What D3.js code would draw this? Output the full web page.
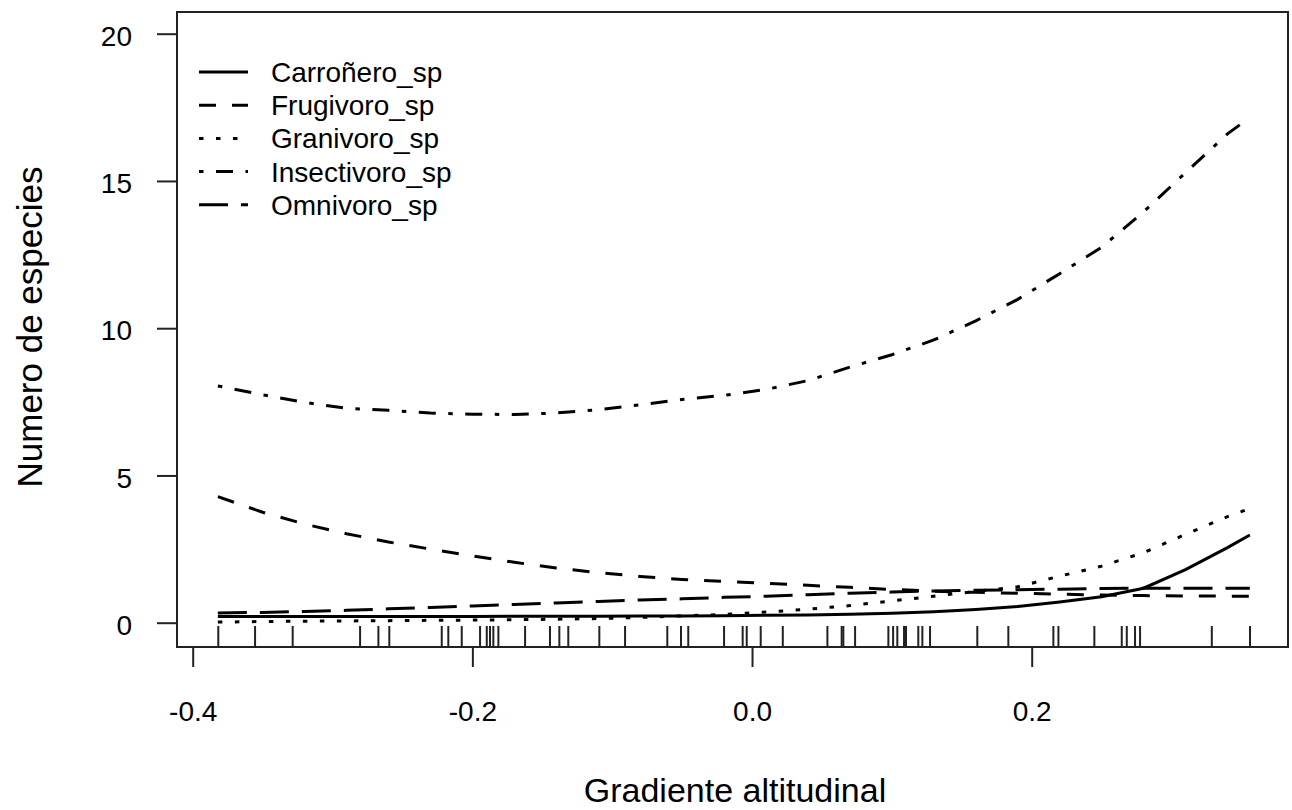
<!DOCTYPE html>
<html>
<head>
<meta charset="utf-8">
<script src="https://cdn.jsdelivr.net/npm/d3@7"></script>
<style>
  body { margin: 0; background: #fff; }
  text { font-family: "Liberation Sans", Arial, sans-serif; fill: #000; }
</style>
</head>
<body>
<div id="chart"></div>
<script>
const width = 1292;
const height = 810;

// x positions where the fitted curves were read
const gradiente = [-0.382, -0.35, -0.32, -0.29, -0.26, -0.23, -0.20, -0.17, -0.14, -0.11,
    -0.08, -0.05, -0.02, 0.01, 0.04, 0.07, 0.10, 0.13, 0.16, 0.19, 0.22, 0.25, 0.28, 0.31, 0.34, 0.356];

const carronero = [0.21, 0.21, 0.21, 0.21, 0.21, 0.21, 0.21, 0.22, 0.22, 0.22,
    0.23, 0.23, 0.24, 0.25, 0.26, 0.29, 0.32, 0.37, 0.45, 0.55, 0.70, 0.88, 1.17, 1.80, 2.55, 2.98];
const frugivoro = [4.28, 3.75, 3.35, 3.02, 2.74, 2.50, 2.27, 2.05, 1.86, 1.70,
    1.57, 1.47, 1.40, 1.34, 1.27, 1.20, 1.13, 1.07, 1.03, 1.00, 0.97, 0.94, 0.92, 0.91, 0.90, 0.90];
const granivoro = [0.02, 0.04, 0.05, 0.06, 0.07, 0.08, 0.09, 0.10, 0.12, 0.14,
    0.18, 0.23, 0.28, 0.36, 0.46, 0.58, 0.74, 0.90, 1.06, 1.22, 1.58, 1.92, 2.38, 3.00, 3.60, 3.88];
const insectivoro = [8.04, 7.74, 7.48, 7.28, 7.21, 7.12, 7.08, 7.07, 7.12, 7.23,
    7.40, 7.58, 7.72, 7.92, 8.22, 8.68, 9.10, 9.60, 10.25, 10.98, 11.85, 12.75, 13.95, 15.28, 16.60, 17.15];
const omnivoro = [0.33, 0.35, 0.38, 0.42, 0.47, 0.52, 0.57, 0.62, 0.67, 0.72,
    0.77, 0.81, 0.86, 0.90, 0.95, 1.00, 1.04, 1.08, 1.10, 1.12, 1.14, 1.16, 1.17, 1.17, 1.17, 1.17];

// observed sites (rug)
const sitios = [-0.3817, -0.3554, -0.3285, -0.2803, -0.2672, -0.2594, -0.2219, -0.2172, -0.2076,
    -0.1945, -0.1897, -0.1874, -0.1850, -0.1814, -0.1623, -0.1445, -0.1378, -0.1314, -0.1092,
    -0.0908, -0.0606, -0.0508, -0.0456, -0.0200, -0.0067, -0.0038, 0.0062, 0.0220, 0.0539,
    0.0641, 0.0653, 0.0737, 0.0975, 0.1009, 0.1039, 0.1087, 0.1101, 0.1189, 0.1218, 0.1273,
    0.1611, 0.1833, 0.2155, 0.2191, 0.2448, 0.2644, 0.2680, 0.2739, 0.2775, 0.3288, 0.3561];

const seriesNames = ["Carroñero_sp", "Frugivoro_sp", "Granivoro_sp", "Insectivoro_sp", "Omnivoro_sp"];
const seriesValues = [carronero, frugivoro, granivoro, insectivoro, omnivoro];
const xTicks = [-0.4, -0.2, 0.0, 0.2];
const yTicks = [0, 5, 10, 15, 20];

// R line types: solid, dashed, dotted, dotdash, longdash
const dashes = [null, "17,16", "4.5,12.5", "4.5,12.5,17,12.5", "29,13"];

const box = { left: 177, right: 1288, top: 12, bottom: 647 };

const svg = d3.select("#chart")
    .append("svg")
    .attr("width", width)
    .attr("height", height);

const scaleX = d3.scaleLinear()
    .domain([-0.4, 0.2])
    .range([192.7, 1031.7]);

const scaleY = d3.scaleLinear()
    .domain([0, 20])
    .range([622.7, 33.7]);

//curves
const line = d3.line()
    .x((d, i) => scaleX(gradiente[i]))
    .y(d => scaleY(d));

seriesValues.forEach((values, i) => {
    svg.append("path")
        .attr("d", line(values))
        .attr("fill", "none")
        .attr("stroke", "#000")
        .attr("stroke-width", 3)
        .attr("stroke-dasharray", dashes[i]);
});

//rug
svg.append("g")
    .selectAll("line")
    .data(sitios)
    .enter()
    .append("line")
    .attr("x1", d => scaleX(d))
    .attr("x2", d => scaleX(d))
    .attr("y1", box.bottom)
    .attr("y2", box.bottom - 21)
    .attr("stroke", "#222")
    .attr("stroke-width", 2);

//plot box
svg.append("rect")
    .attr("x", box.left)
    .attr("y", box.top)
    .attr("width", box.right - box.left)
    .attr("height", box.bottom - box.top)
    .attr("fill", "none")
    .attr("stroke", "#222")
    .attr("stroke-width", 2);

//axes (R style labels use a plain hyphen for negatives)
const axisX = d3.axisBottom(scaleX)
    .tickValues(xTicks)
    .tickFormat(d => d3.format(".1f")(d).replace("\u2212", "-"))
    .tickSize(20)
    .tickPadding(34);

const gX = svg.append("g")
    .attr("transform", `translate(0, ${box.bottom})`)
    .call(axisX);
gX.select(".domain").remove();

const axisY = d3.axisLeft(scaleY)
    .tickValues(yTicks)
    .tickSize(20)
    .tickPadding(25);

const gY = svg.append("g")
    .attr("transform", `translate(${box.left}, 0)`)
    .call(axisY);
gY.select(".domain").remove();

[gX, gY].forEach(g => {
    g.selectAll(".tick line").attr("stroke", "#222").attr("stroke-width", 2);
    g.selectAll(".tick text")
        .style("font-size", "28px")
        .attr("font-family", null)
        .attr("fill", "#111");
});
gY.selectAll(".tick text").attr("dy", "0.42em");

//axis titles
svg.append("text")
    .attr("x", 735)
    .attr("y", 802)
    .attr("text-anchor", "middle")
    .style("font-size", "34px")
    .text("Gradiente altitudinal");

svg.append("text")
    .attr("transform", "translate(42, 327) rotate(-90)")
    .attr("text-anchor", "middle")
    .style("font-size", "35px")
    .text("Numero de especies");

//legend
const legend = svg.append("g").attr("class", "legend");
seriesNames.forEach((name, i) => {
    const rowY = 72 + i * 33.2;
    legend.append("line")
        .attr("x1", 199)
        .attr("x2", 248)
        .attr("y1", rowY)
        .attr("y2", rowY)
        .attr("stroke", "#000")
        .attr("stroke-width", 3)
        .attr("stroke-dasharray", dashes[i]);
    legend.append("text")
        .attr("x", 271)
        .attr("y", rowY)
        .attr("dy", "0.36em")
        .style("font-size", "28px")
        .text(name);
});
</script>
</body>
</html>
